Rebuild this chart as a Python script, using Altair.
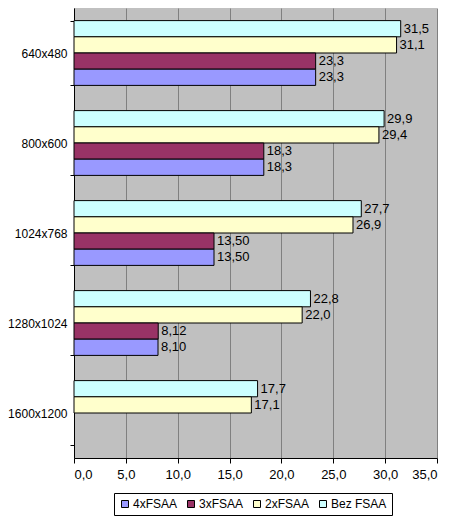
import altair as alt
import pandas as pd

categories = ["640x480", "800x600", "1024x768", "1280x1024", "1600x1200"]
series = ["4xFSAA", "3xFSAA", "2xFSAA", "Bez FSAA"]
series_top_down = ["Bez FSAA", "2xFSAA", "3xFSAA", "4xFSAA"]
colors = ["#9999FF", "#993366", "#FFFFCC", "#CCFFFF"]

bez_fsaa = [31.5, 29.9, 27.7, 22.8, 17.7]
fsaa2 = [31.1, 29.4, 26.9, 22.0, 17.1]
fsaa3 = [23.3, 18.3, 13.5, 8.12, None]
fsaa4 = [23.3, 18.3, 13.5, 8.10, None]

labels_bez = ["31,5", "29,9", "27,7", "22,8", "17,7"]
labels_2 = ["31,1", "29,4", "26,9", "22,0", "17,1"]
labels_3 = ["23,3", "18,3", "13,50", "8,12", None]
labels_4 = ["23,3", "18,3", "13,50", "8,10", None]

x_ticks = [0, 5, 10, 15, 20, 25, 30, 35]

rows = []
for name, vals, labs in [
    ("Bez FSAA", bez_fsaa, labels_bez),
    ("2xFSAA", fsaa2, labels_2),
    ("3xFSAA", fsaa3, labels_3),
    ("4xFSAA", fsaa4, labels_4),
]:
    for cat, v, lab in zip(categories, vals, labs):
        if v is not None:
            rows.append({"res": cat, "series": name, "value": v, "label": lab})
df = pd.DataFrame(rows)

FONT = "Liberation Sans"

x_enc = alt.X(
    "value:Q",
    scale=alt.Scale(domain=[0, 35], nice=False, zero=True),
    axis=alt.Axis(
        title=None,
        values=x_ticks,
        labelExpr="replace(format(datum.value, '.1f'), '.', ',')",
        grid=True,
        gridColor="#808080",
        gridWidth=1,
        domainColor="black",
        tickColor="black",
        tickSize=5,
        labelPadding=5,
        labelFont=FONT,
        labelFontSize=13,
        labelColor="black",
    ),
)
y_enc = alt.Y(
    "res:N",
    sort=categories,
    scale=alt.Scale(domain=categories, paddingInner=0.28, paddingOuter=0.14),
    axis=alt.Axis(
        title=None,
        tickBand="extent",
        grid=False,
        domainColor="black",
        tickColor="black",
        tickSize=4,
        labelPadding=3,
        labelFont=FONT,
        labelFontSize=12,
        labelColor="black",
    ),
)
yoff_enc = alt.YOffset(
    "series:N",
    scale=alt.Scale(domain=series_top_down, paddingInner=0, paddingOuter=0),
)

base = alt.Chart(df)

bars = base.mark_bar(stroke="black", strokeWidth=1).encode(
    x=x_enc,
    y=y_enc,
    yOffset=yoff_enc,
    color=alt.Color(
        "series:N",
        scale=alt.Scale(domain=series, range=colors),
        legend=alt.Legend(
            title=None,
            orient="none",
            legendX=40,
            legendY=485,
            direction="horizontal",
            columns=4,
            symbolType="square",
            symbolSize=49,
            symbolStrokeColor="black",
            symbolStrokeWidth=1,
            labelFont=FONT,
            labelFontSize=12,
            labelColor="black",
            labelOffset=2,
            columnPadding=7,
            padding=5,
            strokeColor="black",
            fillColor="white",
            cornerRadius=0,
        ),
    ),
)

text = base.mark_text(
    align="left", baseline="middle", dx=3, font=FONT, fontSize=13, color="black"
).encode(x=x_enc, y=y_enc, yOffset=yoff_enc, text="label:N")

chart = (
    alt.layer(bars, text)
    .properties(
        width=363,
        height=450,
        autosize=alt.AutoSizeParams(type="none"),
        padding={"left": 66, "top": 0, "right": 4, "bottom": 58},
        background="white",
    )
    .configure_view(fill="#C0C0C0", stroke=None)
)

chart.save("out.html", embed_options={"renderer": "svg", "actions": False})
